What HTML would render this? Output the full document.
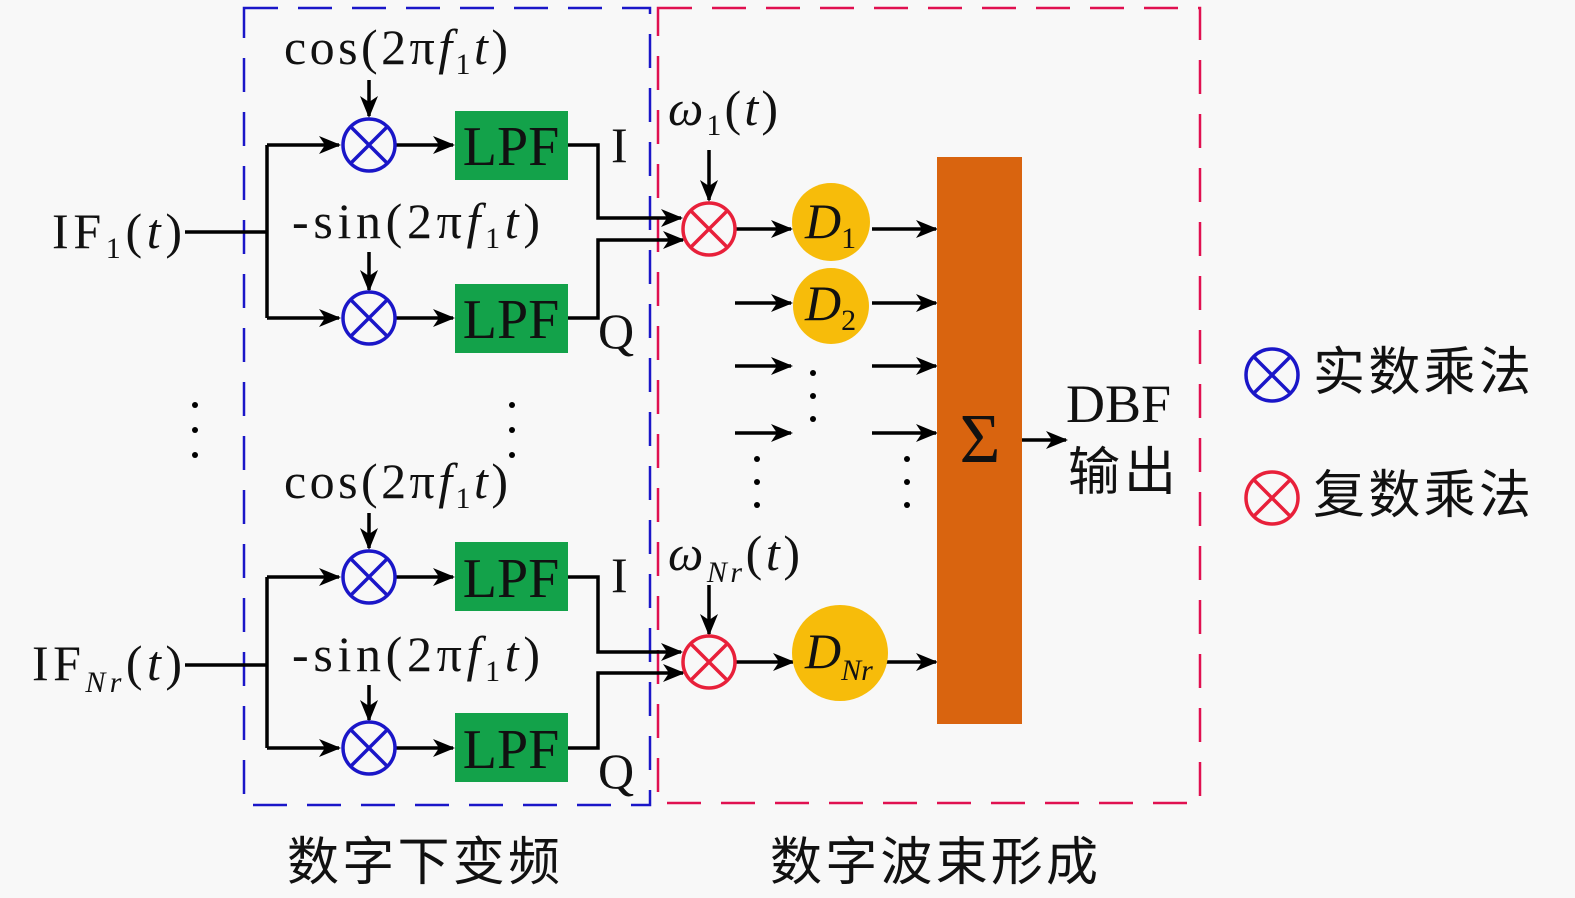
<!DOCTYPE html>
<html><head><meta charset="utf-8"><style>
body{margin:0;background:#f8f8f8}
svg{display:block}
text{font-family:"Liberation Serif","Noto Serif CJK SC",serif;fill:#111}
.it{font-style:italic}
.cj{font-family:"Liberation Serif","Noto Sans CJK SC",sans-serif}
</style></head><body>
<svg width="1575" height="898" viewBox="0 0 1575 898" xmlns="http://www.w3.org/2000/svg">
<defs>
<marker id="b" markerWidth="22" markerHeight="18" refX="20" refY="9" orient="auto" markerUnits="userSpaceOnUse"><path d="M0,0 L22,9 L0,18 L6,9z" fill="#000"/></marker>
<g id="bm"><circle r="26" fill="none" stroke="#1a16c8" stroke-width="3.5"/><path d="M-18,-18L18,18M18,-18L-18,18" stroke="#1a16c8" stroke-width="3.5"/></g>
<g id="rm"><circle r="26" fill="none" stroke="#e8203a" stroke-width="3.5"/><path d="M-18,-18L18,18M18,-18L-18,18" stroke="#e8203a" stroke-width="3.5"/></g>
</defs>
<rect width="1575" height="898" fill="#f8f8f8"/>
<rect x="244" y="8" width="406" height="797" fill="none" stroke="#1a16c8" stroke-width="2.5" stroke-dasharray="34,20"/>
<rect x="658" y="8" width="542" height="795" fill="none" stroke="#e01050" stroke-width="2.5" stroke-dasharray="34,20"/>
<g stroke="#000" stroke-width="3.5" fill="none">
<path d="M185,232H267M267,145V318"/>
<path d="M267,145H339" marker-end="url(#b)"/><path d="M267,318H339" marker-end="url(#b)"/>
<path d="M396,145H453" marker-end="url(#b)"/><path d="M396,318H453" marker-end="url(#b)"/>
<path d="M369,80V116" marker-end="url(#b)"/><path d="M369,252V290" marker-end="url(#b)"/>
<path d="M568,145H598V218H681" marker-end="url(#b)"/>
<path d="M568,318H598V240H683" marker-end="url(#b)"/>
<path d="M185,665H267M267,577V748"/>
<path d="M267,577H339" marker-end="url(#b)"/><path d="M267,748H339" marker-end="url(#b)"/>
<path d="M396,577H453" marker-end="url(#b)"/><path d="M396,748H453" marker-end="url(#b)"/>
<path d="M369,513V548" marker-end="url(#b)"/><path d="M369,685V720" marker-end="url(#b)"/>
<path d="M568,577H598V652H681" marker-end="url(#b)"/>
<path d="M568,748H598V673H683" marker-end="url(#b)"/>
<path d="M709,150V200" marker-end="url(#b)"/><path d="M709,585V634" marker-end="url(#b)"/>
<path d="M736,229H791" marker-end="url(#b)"/><path d="M736,662H793" marker-end="url(#b)"/>
<path d="M735,303H791" marker-end="url(#b)"/><path d="M735,366H791" marker-end="url(#b)"/><path d="M735,433H791" marker-end="url(#b)"/>
<path d="M872,229H936" marker-end="url(#b)"/><path d="M872,303H936" marker-end="url(#b)"/><path d="M872,366H936" marker-end="url(#b)"/><path d="M872,433H936" marker-end="url(#b)"/><path d="M886,662H936" marker-end="url(#b)"/>
<path d="M1022,440H1066" marker-end="url(#b)"/>
</g>
<use href="#bm" x="369" y="145"/><use href="#bm" x="369" y="318"/><use href="#bm" x="369" y="577"/><use href="#bm" x="369" y="748"/>
<use href="#rm" x="709" y="229"/><use href="#rm" x="709" y="662"/>
<use href="#bm" x="1272" y="375"/><use href="#rm" x="1272" y="498"/>
<g fill="#13a24a"><rect x="455" y="111" width="113" height="69"/><rect x="455" y="284" width="113" height="69"/><rect x="455" y="542" width="113" height="69"/><rect x="455" y="713" width="113" height="69"/></g>
<g font-size="56" text-anchor="middle"><text x="511" y="165">LPF</text><text x="511" y="338">LPF</text><text x="511" y="597">LPF</text><text x="511" y="768">LPF</text></g>
<rect x="937" y="157" width="85" height="567" fill="#d9640f"/>
<text x="980" y="462" font-size="70" text-anchor="middle">Σ</text>
<g fill="#f7bc0a"><circle cx="831" cy="222" r="39"/><circle cx="831" cy="306" r="38"/><circle cx="840" cy="653" r="48"/></g>
<g font-size="50">
<text x="805" y="238" class="it">D<tspan font-size="30" dy="10" font-style="normal">1</tspan></text>
<text x="805" y="320" class="it">D<tspan font-size="30" dy="10" font-style="normal">2</tspan></text>
<text x="805" y="668" class="it">D<tspan font-size="30" dy="12">Nr</tspan></text>
<text x="284" y="64" textLength="224">cos(2π<tspan class="it">f</tspan><tspan font-size="30" dy="10">1</tspan><tspan dy="-10" class="it">t</tspan>)</text>
<text x="292" y="238" textLength="248">-sin(2π<tspan class="it">f</tspan><tspan font-size="30" dy="10">1</tspan><tspan dy="-10" class="it">t</tspan>)</text>
<text x="284" y="498" textLength="224">cos(2π<tspan class="it">f</tspan><tspan font-size="30" dy="10">1</tspan><tspan dy="-10" class="it">t</tspan>)</text>
<text x="292" y="671" textLength="248">-sin(2π<tspan class="it">f</tspan><tspan font-size="30" dy="10">1</tspan><tspan dy="-10" class="it">t</tspan>)</text>
<text x="52" y="248" textLength="130">IF<tspan font-size="30" dy="10">1</tspan><tspan dy="-10">(</tspan><tspan class="it">t</tspan>)</text>
<text x="32" y="680" textLength="150">IF<tspan font-size="30" dy="12" class="it">Nr</tspan><tspan dy="-12">(</tspan><tspan class="it">t</tspan>)</text>
<text x="668" y="125" textLength="110"><tspan class="it">ω</tspan><tspan font-size="30" dy="10">1</tspan><tspan dy="-10">(</tspan><tspan class="it">t</tspan>)</text>
<text x="668" y="570" textLength="132"><tspan class="it">ω</tspan><tspan font-size="30" dy="12" class="it">Nr</tspan><tspan dy="-12">(</tspan><tspan class="it">t</tspan>)</text>
<text x="611" y="162">I</text><text x="598" y="348">Q</text>
<text x="611" y="592">I</text><text x="598" y="788">Q</text>
<text x="1066" y="422" font-size="54">DBF</text>
</g>
<g font-size="52" class="cj">
<text x="1068" y="490" class="cj" textLength="108">输出</text>
<text x="1313" y="390" class="cj" textLength="218">实数乘法</text>
<text x="1313" y="513" class="cj" textLength="218">复数乘法</text>
<text x="287" y="880" class="cj" textLength="273">数字下变频</text>
<text x="770" y="880" class="cj" textLength="328">数字波束形成</text>
</g>
<g fill="#000">
<circle cx="195" cy="405" r="3"/><circle cx="195" cy="430" r="3"/><circle cx="195" cy="455" r="3"/>
<circle cx="512" cy="405" r="3"/><circle cx="512" cy="430" r="3"/><circle cx="512" cy="455" r="3"/>
<circle cx="813" cy="373" r="3"/><circle cx="813" cy="396" r="3"/><circle cx="813" cy="419" r="3"/>
<circle cx="757" cy="459" r="3"/><circle cx="757" cy="482" r="3"/><circle cx="757" cy="505" r="3"/>
<circle cx="907" cy="459" r="3"/><circle cx="907" cy="482" r="3"/><circle cx="907" cy="505" r="3"/>
</g>
</svg>
</body></html>
